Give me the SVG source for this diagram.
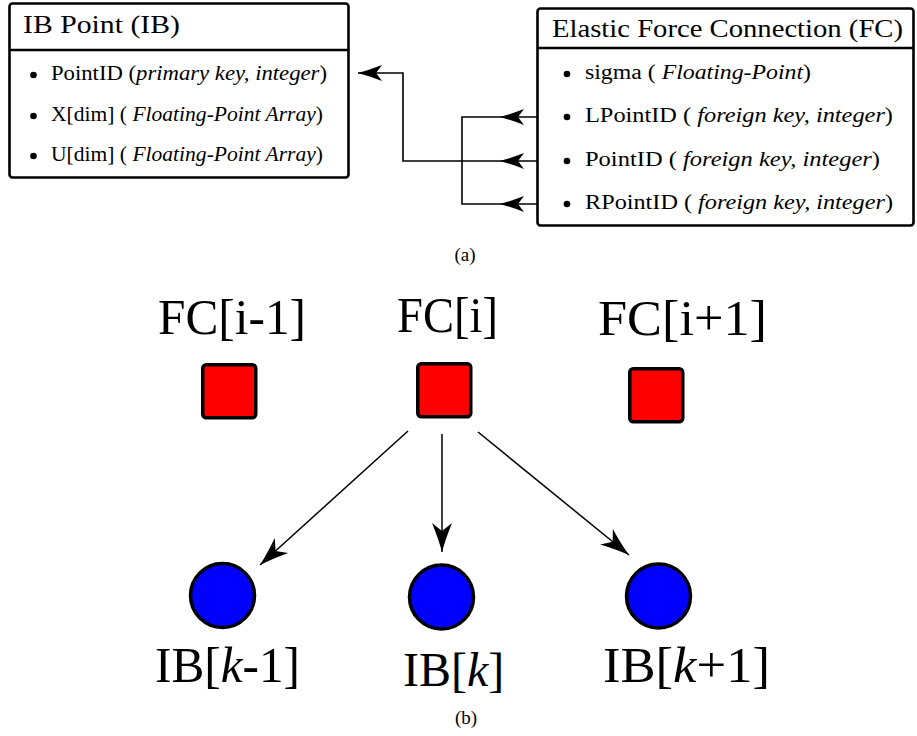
<svg xmlns="http://www.w3.org/2000/svg" width="917" height="736" viewBox="0 0 917 736" font-family="'Liberation Serif', 'Times New Roman', 'DejaVu Serif', serif">
  <style>
    text { font-family: 'Liberation Serif', 'Times New Roman', 'DejaVu Serif', serif; fill: #000; }
    .hdr { font-size: 26px; }
    .row { font-size: 20px; }
    .it { font-style: italic; }
    .big { font-size: 50px; }
    .cap { font-size: 19px; }
    .box { fill: #fff; stroke: #000; stroke-width: 2.6; }
    .div { stroke: #000; stroke-width: 2.6; }
    .conn { fill: none; stroke: #000; stroke-width: 1.6; }
    .arr { fill: none; stroke: #000; stroke-width: 1.5; }
    .fc { fill: #ff0000; stroke: #000; stroke-width: 3.5; }
    .ib { fill: #0000ff; stroke: #000; stroke-width: 3.5; }
  </style>
  <defs>
    <!-- small stealth head used on the key links -->
    <marker id="headS" markerUnits="userSpaceOnUse" markerWidth="26" markerHeight="18" viewBox="-25 -9 26 18" refX="0" refY="0" orient="auto">
      <path d="M0,0 Q-11,-3 -24,-8 L-18,0 L-24,8 Q-11,3 0,0 Z" fill="#000"/>
    </marker>
    <!-- larger stealth head used on the FC to IB links -->
    <marker id="headL" markerUnits="userSpaceOnUse" markerWidth="32" markerHeight="22" viewBox="-31 -11 32 22" refX="0" refY="0" orient="auto">
      <path d="M0,0 Q-13,-3.5 -29,-10 L-21,0 L-29,10 Q-13,3.5 0,0 Z" fill="#000"/>
    </marker>
  </defs>

  <!-- (a) table IB Point -->
  <g id="ib-table">
    <rect class="box" x="9.5" y="3.5" width="339" height="174" rx="3"/>
    <line class="div" x1="9.5" y1="50" x2="348.5" y2="50"/>
    <text class="hdr" x="23" y="33" textLength="157" lengthAdjust="spacingAndGlyphs">IB Point (IB)</text>
    <circle cx="33.5" cy="75" r="3.3"/>
    <text class="row" x="51" y="80" textLength="276" lengthAdjust="spacingAndGlyphs">PointID (<tspan class="it">primary key,  integer</tspan>)</text>
    <circle cx="33.5" cy="116" r="3.3"/>
    <text class="row" x="51" y="121" textLength="272" lengthAdjust="spacingAndGlyphs">X[dim] ( <tspan class="it">Floating-Point Array</tspan>)</text>
    <circle cx="33.5" cy="156" r="3.3"/>
    <text class="row" x="51" y="161" textLength="272" lengthAdjust="spacingAndGlyphs">U[dim] ( <tspan class="it">Floating-Point Array</tspan>)</text>
  </g>

  <!-- (a) table Elastic Force Connection -->
  <g id="fc-table">
    <rect class="box" x="537.5" y="8.5" width="376" height="217" rx="3"/>
    <line class="div" x1="537.5" y1="48" x2="913.5" y2="48"/>
    <text class="hdr" x="552" y="37" textLength="351" lengthAdjust="spacingAndGlyphs">Elastic Force Connection (FC)</text>
    <circle cx="567" cy="74" r="3.3"/>
    <text class="row" x="585" y="79" textLength="226" lengthAdjust="spacingAndGlyphs">sigma ( <tspan class="it">Floating-Point</tspan>)</text>
    <circle cx="567" cy="117" r="3.3"/>
    <text class="row" x="585" y="122" textLength="308" lengthAdjust="spacingAndGlyphs">LPointID ( <tspan class="it">foreign key,  integer</tspan>)</text>
    <circle cx="567" cy="161" r="3.3"/>
    <text class="row" x="585" y="166" textLength="295" lengthAdjust="spacingAndGlyphs">PointID ( <tspan class="it">foreign key,  integer</tspan>)</text>
    <circle cx="567" cy="204" r="3.3"/>
    <text class="row" x="585" y="209" textLength="308" lengthAdjust="spacingAndGlyphs">RPointID ( <tspan class="it">foreign key,  integer</tspan>)</text>
  </g>

  <!-- key links between the tables -->
  <g id="key-links">
    <path class="conn" d="M537,117 H500" marker-end="url(#headS)"/>
    <path class="conn" d="M537,204 H500" marker-end="url(#headS)"/>
    <path class="conn" d="M500,117 H462 V204 H500"/>
    <path class="conn" d="M537,161 H500" marker-end="url(#headS)"/>
    <path class="conn" d="M500,161 H403 V73 H358" marker-end="url(#headS)"/>
  </g>

  <text class="cap" x="465" y="261" text-anchor="middle">(a)</text>

  <!-- (b) force connections -->
  <g id="fc-im1">
    <text class="big" x="158" y="334" textLength="148" lengthAdjust="spacingAndGlyphs">FC[i-1]</text>
    <rect class="fc" x="202.75" y="364.75" width="53" height="53" rx="3.5"/>
  </g>
  <g id="fc-i">
    <text class="big" x="397" y="332" textLength="101" lengthAdjust="spacingAndGlyphs">FC[i]</text>
    <rect class="fc" x="417.75" y="363.75" width="53" height="53" rx="3.5"/>
  </g>
  <g id="fc-ip1">
    <text class="big" x="598" y="335" textLength="169" lengthAdjust="spacingAndGlyphs">FC[i+1]</text>
    <rect class="fc" x="629.75" y="368.75" width="53" height="53" rx="3.5"/>
  </g>

  <!-- (b) immersed boundary points -->
  <g id="ib-km1">
    <circle class="ib" cx="222.5" cy="595.5" r="32"/>
    <text class="big" x="155" y="682" textLength="145" lengthAdjust="spacingAndGlyphs">IB[<tspan class="it">k</tspan>-1]</text>
  </g>
  <g id="ib-k">
    <circle class="ib" cx="441.5" cy="597" r="32"/>
    <text class="big" x="403" y="686" style="font-size:48px">IB[<tspan class="it">k</tspan>]</text>
  </g>
  <g id="ib-kp1">
    <circle class="ib" cx="658.5" cy="596" r="32"/>
    <text class="big" x="603" y="682" textLength="167" lengthAdjust="spacingAndGlyphs">IB[<tspan class="it">k</tspan>+1]</text>
  </g>

  <!-- FC[i] to IB links -->
  <g id="fc-ib-links">
    <path class="arr" d="M408,431 L260,565" marker-end="url(#headL)"/>
    <path class="arr" d="M442,434 L442,552" marker-end="url(#headL)"/>
    <path class="arr" d="M478,432 L629,555" marker-end="url(#headL)"/>
  </g>

  <text class="cap" x="466" y="724" text-anchor="middle">(b)</text>
</svg>
